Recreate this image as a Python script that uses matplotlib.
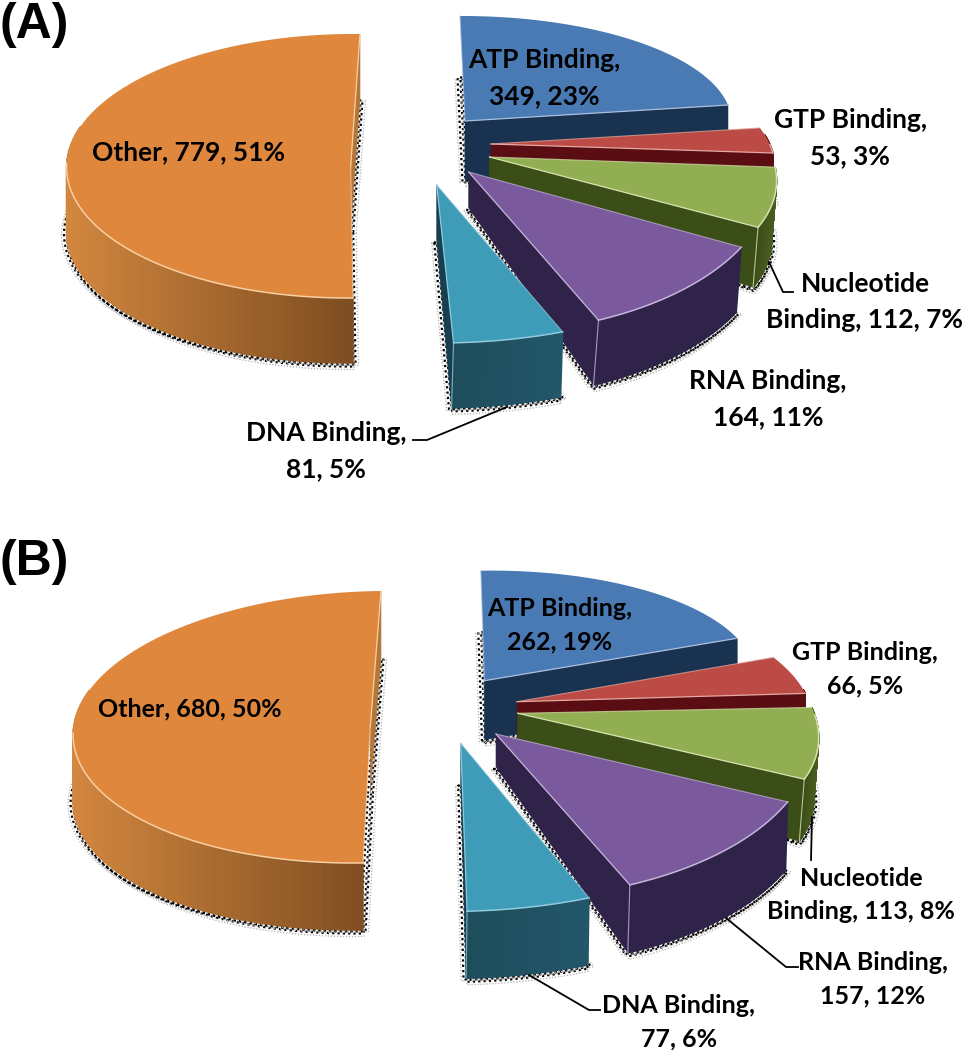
# Exploded 3D style pies, drawn in pixel space of the figure
import numpy as np
import matplotlib
matplotlib.use('Agg')
import matplotlib.pyplot as plt
from matplotlib.patches import Polygon

# Data
names = ['ATP Binding', 'GTP Binding', 'Nucleotide Binding', 'RNA Binding', 'DNA Binding', 'Other']
values_a = [349, 53, 112, 164, 81, 779]
values_b = [262, 66, 113, 157, 77, 680]
percent_a = [23, 3, 7, 11, 5, 51]
percent_b = [19, 5, 8, 12, 6, 50]

# Colours
top_colors = ['#4a7ab4', '#bb4b44', '#92ae52', '#7a5a9c', '#3f9cb8', '#e0873e']
rim_colors = ['#a9c0de', '#e6a9a2', '#d6e3ae', '#c4b6dc', '#8fcadd', '#f8cfa2']
face_colors = ['#193250', '#5a0e14', '#3c4e18', '#30234a', '#173f50', '#b5763a']
side_left = ['#193250', '#5a0e14', '#3c4e18', '#30234a', '#1f4d5c', '#d3873f']
side_right = ['#1a3553', '#5a0e14', '#4a5f20', '#30234a', '#22566a', '#7c4c20']

# Layout of each slice: apex, ellipse matrix (a, c, d, b), depth at apex, depth at rim, lean
layout_a = [
    ((465, 121), (266.5, -5, -0.8, 105), 59, 60, 0),
    ((491, 144), (279, -50, 0.7, 116), 40, 50, 0),
    ((489.5, 157), (283, -48, 0.2, 139), 45, 60, -5),
    ((468.7, 172), (303.5, -21, -7.6, 162), 36, 65, -5),
    ((436.7, 185), (339, -3, -1, 158), 55, 65, -2),
    ((350.7, 166), (284, 9.3, 3, 132), 65, 65, 0),
]
layout_b = [
    ((484.5, 680.7), (271, -3.7, -4.4, 110), 59, 60, 0),
    ((517, 701.7), (291, -47, -2.3, 121), 40, 50, 0),
    ((517.7, 713.3), (297, -49, 1.2, 142), 45, 62, -5),
    ((496, 734), (317, -21, -8.4, 165), 33, 68, -2),
    ((460.7, 743.3), (350, -2.3, -6, 168), 40, 67, -1),
    ((370.3, 727), (297, 10.7, -3, 136), 67, 67, 0),
]

# Label positions
label_pos_a = [(544, 78), (850, 138), (865, 302), (768, 399), (326, 451), (188, 152)]
label_pos_b = [(560, 625), (865, 669), (861, 895), (873, 979), (679, 1022), (190, 709)]
leaders_a = [[(769, 262), (783, 292), (793, 292)], [(507, 407), (427, 440), (413, 440)]]
leaders_b = [[(812, 817), (811, 860)], [(726, 918), (786, 967), (798, 967)], [(529, 975), (589, 1010), (600, 1010)]]


def arc_points(theta, apex, m):
    t = np.radians(theta)
    x = apex[0] + m[0] * np.sin(t) + m[1] * np.cos(t)
    y = apex[1] + m[2] * np.sin(t) - m[3] * np.cos(t)
    return np.column_stack([x, y])


def hex_mix(c1, c2, f):
    a = np.array(matplotlib.colors.to_rgb(c1))
    b = np.array(matplotlib.colors.to_rgb(c2))
    return tuple(a + (b - a) * f)


def draw_pie(ax, values, layout):
    edges = np.concatenate([[0], np.cumsum(values)]) / np.sum(values) * 360
    parts = []
    for i, (apex, m, dep_in, dep_out, lean) in enumerate(layout):
        theta = np.linspace(edges[i], edges[i + 1], 90)
        arc = arc_points(theta, apex, m)
        apex_low = np.array([apex[0], apex[1] + dep_in])
        arc_low = arc + [lean, dep_out]
        parts.append((theta, np.array(apex, dtype=float), apex_low, arc, arc_low))

    # Speckled shadow goes behind every slice
    for theta, apex, apex_low, arc, arc_low in parts:
        ring = np.vstack([apex_low, arc_low, apex_low])
        for dx, dy, col, lw in [(2.5, 1.5, 'black', 1.6), (-2.5, 1.5, 'black', 1.6), (0.5, 3.5, 'black', 1.6),
                                (5.5, 2, '#b0b0b0', 0.9), (-5, 2.5, '#b0b0b0', 0.9), (1, 6.5, '#b0b0b0', 0.9)]:
            ax.plot(ring[:, 0] + dx, ring[:, 1] + dy, color=col, lw=lw, ls=(0, (1, 1.4)), zorder=1)

    z = 2
    for i, (theta, apex, apex_low, arc, arc_low) in enumerate(parts):
        # end face of the slice
        face = np.vstack([apex, arc[-1], arc_low[-1], apex_low])
        ax.add_patch(Polygon(face, closed=True, fc=face_colors[i], ec=face_colors[i], lw=0.4, zorder=z))
        # outer wall with gradient along x, only the part that looks at the viewer
        lo, hi = arc[:, 0].min(), arc[:, 0].max()
        for k in range(len(theta) - 1):
            if theta[k] > 285 or theta[k] < 85:
                continue
            f = (arc[k, 0] - lo) / max(hi - lo, 1)
            quad = np.vstack([arc[k], arc[k + 1], arc_low[k + 1], arc_low[k]])
            col = hex_mix(side_left[i], side_right[i], f)
            ax.add_patch(Polygon(quad, closed=True, fc=col, ec=col, lw=1.0, zorder=z))
        # top
        ax.add_patch(Polygon(np.vstack([apex, arc]), closed=True, fc=top_colors[i], ec='none', zorder=z + 0.1))
        # light rim on the edges facing the viewer
        front = (theta >= 90) & (theta <= 270)
        rim = rim_colors[i]
        if front.any():
            ax.plot(arc[front, 0], arc[front, 1], color=rim, lw=1.1, zorder=z + 0.2)
        ax.plot([apex[0], arc[-1, 0]], [apex[1], arc[-1, 1]], color=rim, lw=0.9, zorder=z + 0.2)
        ax.plot([apex[0], arc[0, 0]], [apex[1], arc[0, 1]], color=rim, lw=0.8, alpha=0.7, zorder=z + 0.2)
        if i in (2, 3, 4):
            ax.plot([arc[-1, 0], arc_low[-1, 0]], [arc[-1, 1], arc_low[-1, 1]], color=rim, lw=0.8, alpha=0.8, zorder=z + 0.2)
        z += 1


def draw_labels(ax, values, percents, positions, leaders, size, spacing):
    for name, val, pct, pos in zip(names, values, percents, positions):
        if name == 'Other':
            txt = f'{name}, {val}, {pct}%'
        elif name == 'Nucleotide Binding':
            txt = f'Nucleotide\nBinding, {val}, {pct}%'
        else:
            txt = f'{name},\n{val}, {pct}%'
        ax.text(pos[0], pos[1], txt, ha='center', va='center', family='Lato', fontweight='bold',
                fontsize=size, color='black', linespacing=spacing, zorder=20)
    for line in leaders:
        xs, ys = zip(*line)
        ax.plot(xs, ys, color='black', lw=1.3, zorder=19)


fig = plt.figure(figsize=(9.65, 10.5), dpi=100)
ax = fig.add_axes([0, 0, 1, 1])
ax.set_xlim(0, 965)
ax.set_ylim(1050, 0)
ax.axis('off')

draw_pie(ax, values_a, layout_a)
draw_pie(ax, values_b, layout_b)
draw_labels(ax, values_a, percent_a, label_pos_a, leaders_a, 19, 1.62)
draw_labels(ax, values_b, percent_b, label_pos_b, leaders_b, 18, 1.55)

ax.text(-1, 38, '(A)', family='Liberation Sans', fontweight='bold', fontsize=36, ha='left', va='baseline')
ax.text(-1, 575, '(B)', family='Liberation Sans', fontweight='bold', fontsize=36, ha='left', va='baseline')

fig.savefig('out.png', dpi=100)
